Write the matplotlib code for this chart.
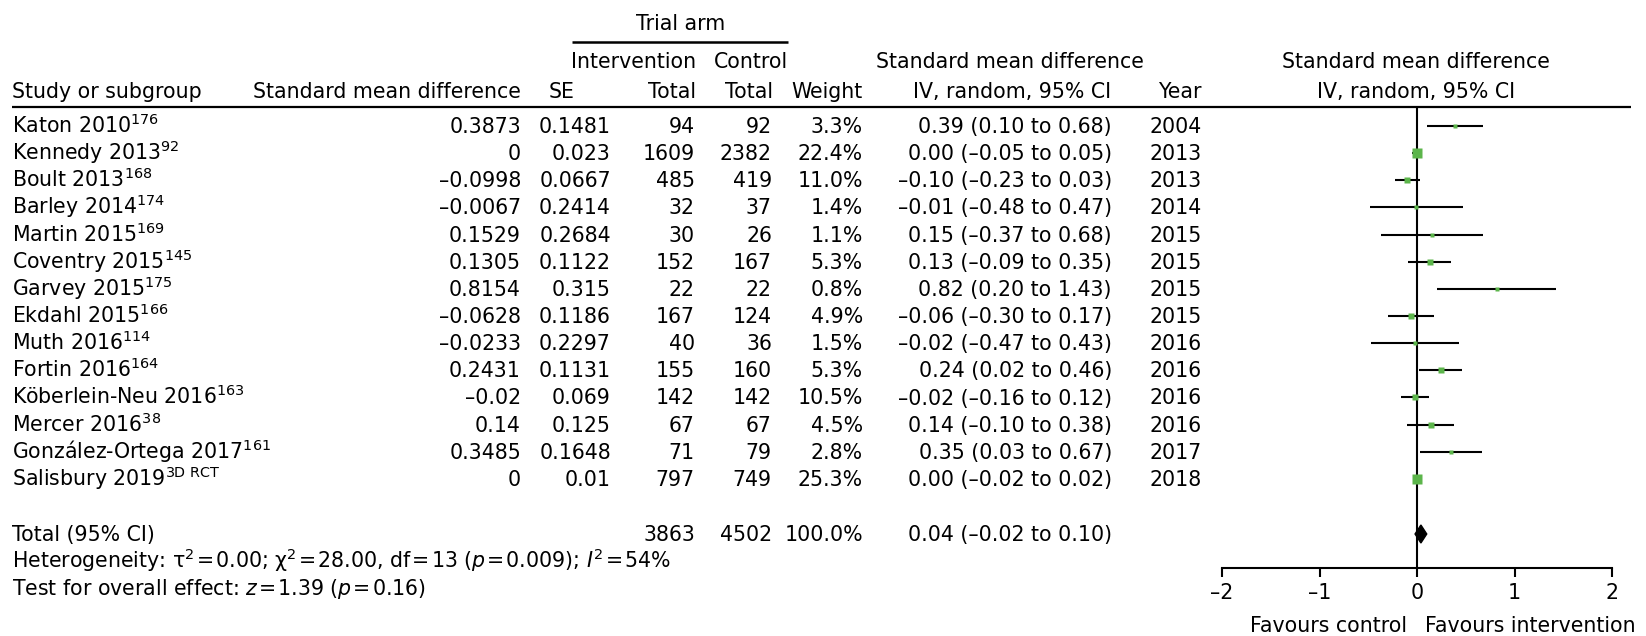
import matplotlib.pyplot as plt
import numpy as np

plt.rcParams['font.family'] = ['DejaVu Sans']
plt.rcParams['mathtext.fontset'] = 'dejavusans'

studies = ['Katon 2010', 'Kennedy 2013', 'Boult 2013', 'Barley 2014', 'Martin 2015',
           'Coventry 2015', 'Garvey 2015', 'Ekdahl 2015', 'Muth 2016', 'Fortin 2016',
           'Köberlein-Neu 2016', 'Mercer 2016', 'González-Ortega 2017', 'Salisbury 2019']
refs = ['176', '92', '168', '174', '169', '145', '175', '166', '114', '164', '163', '38',
        '161', r'\mathrm{3D\ RCT}']
smd = [0.3873, 0, -0.0998, -0.0067, 0.1529, 0.1305, 0.8154, -0.0628, -0.0233, 0.2431,
       -0.02, 0.14, 0.3485, 0]
se = [0.1481, 0.023, 0.0667, 0.2414, 0.2684, 0.1122, 0.315, 0.1186, 0.2297, 0.1131,
      0.069, 0.125, 0.1648, 0.01]
n_int = [94, 1609, 485, 32, 30, 152, 22, 167, 40, 155, 142, 67, 71, 797]
n_ctrl = [92, 2382, 419, 37, 26, 167, 22, 124, 36, 160, 142, 67, 79, 749]
weight = [3.3, 22.4, 11.0, 1.4, 1.1, 5.3, 0.8, 4.9, 1.5, 5.3, 10.5, 4.5, 2.8, 25.3]
ci_lo = [0.10, -0.05, -0.23, -0.48, -0.37, -0.09, 0.20, -0.30, -0.47, 0.02, -0.16, -0.10,
         0.03, -0.02]
ci_hi = [0.68, 0.05, 0.03, 0.47, 0.68, 0.35, 1.43, 0.17, 0.43, 0.46, 0.12, 0.38, 0.67, 0.02]
year = [2004, 2013, 2013, 2014, 2015, 2015, 2015, 2015, 2016, 2016, 2016, 2016, 2017, 2018]

total_int = 3863
total_ctrl = 4502
total_weight = 100.0
total_est, total_lo, total_hi = 0.04, -0.02, 0.10
x_ticks = [-2, -1, 0, 1, 2]

W, H = 1646, 636
ROW0, STEP = 126, 27.15
BASE = 7          # baseline offset below row centre (px)
FS = 14.8
GREEN = '#5cb54b'
EQ = '\u200a=\u200a'


def dash(s):
    return s.replace('-', '\u2013')


def ci_text(e, lo, hi):
    return dash(f'{e:.2f} ({lo:.2f} to {hi:.2f})')


fig = plt.figure(figsize=(W / 100, H / 100), dpi=100)
tab = fig.add_axes([0, 0, 1, 1])
tab.set_xlim(0, W)
tab.set_ylim(H, 0)
tab.axis('off')


def put(x, y, s, ha='left'):
    tab.text(x, y, s, ha=ha, va='baseline', fontsize=FS)


# header
put(681, 30, 'Trial arm', 'center')
tab.hlines(42, 572, 788, color='black', lw=1.8)
put(696, 68, 'Intervention', 'right')
put(788, 68, 'Control', 'right')
put(1010, 68, 'Standard mean difference', 'center')
put(1416, 68, 'Standard mean difference', 'center')
put(12, 98, 'Study or subgroup')
put(521, 98, 'Standard mean difference', 'right')
put(549, 98, 'SE')
put(696, 98, 'Total', 'right')
put(773, 98, 'Total', 'right')
put(863, 98, 'Weight', 'right')
put(1111, 98, 'IV, random, 95% CI', 'right')
put(1202, 98, 'Year', 'right')
put(1416, 98, 'IV, random, 95% CI', 'center')
tab.hlines(107, 12, 1631, color='black', lw=1.6)

# study rows
for i in range(len(studies)):
    y = ROW0 + STEP * i + BASE
    put(12, y, f'{studies[i]}$^{{{refs[i]}}}$')
    put(521, y, dash(f'{smd[i]:g}'), 'right')
    put(611, y, f'{se[i]:g}', 'right')
    put(695, y, str(n_int[i]), 'right')
    put(772, y, str(n_ctrl[i]), 'right')
    put(863, y, f'{weight[i]:.1f}%', 'right')
    put(1112, y, ci_text(round(smd[i], 2) + 0.0, ci_lo[i], ci_hi[i]), 'right')
    put(1202, y, str(year[i]), 'right')

TOT_Y = 534
put(12, TOT_Y + BASE, 'Total (95% CI)')
put(695, TOT_Y + BASE, str(total_int), 'right')
put(772, TOT_Y + BASE, str(total_ctrl), 'right')
put(863, TOT_Y + BASE, f'{total_weight:.1f}%', 'right')
put(1112, TOT_Y + BASE, ci_text(total_est, total_lo, total_hi), 'right')
put(12, 568, f'Heterogeneity: τ$^{{2}}${EQ}0.00; χ$^{{2}}${EQ}28.00, df{EQ}13 ($p${EQ}0.009); '
             f'$I^{{2}}${EQ}54%')
put(12, 595, f'Test for overall effect: $z${EQ}1.39 ($p${EQ}0.16)')

# forest plot
top, bot = 107, 568
ax = fig.add_axes([1222 / W, (H - bot) / H, 390 / W, (bot - top) / H])
ax.set_xlim(-2, 2)
ax.set_ylim((bot - ROW0) / STEP, (top - ROW0) / STEP)
ax.patch.set_alpha(0)
for s in ['left', 'right', 'top']:
    ax.spines[s].set_visible(False)
ax.spines['bottom'].set_linewidth(1.5)
ax.set_yticks([])
ax.set_xticks(x_ticks)
ax.set_xticklabels([dash(str(t)) for t in x_ticks], fontsize=FS)
ax.tick_params(axis='x', length=6.5, width=1.5, pad=4)
ax.axvline(0, color='black', lw=1.5, zorder=1)

for i in range(len(studies)):
    ax.hlines(i, ci_lo[i], ci_hi[i], color='black', lw=1.5, zorder=2)
    ax.plot(smd[i], i, 's', ms=1.3 + 1.1 * np.sqrt(weight[i]), color=GREEN,
            mec='none', zorder=3)

tr = (TOT_Y - ROW0) / STEP
dh = 9 / STEP
ax.fill([total_lo, total_est, total_hi, total_est], [tr, tr - dh, tr, tr + dh],
        color='black', zorder=4)

fav_y = (632 - ROW0) / STEP
ax.text(-0.1, fav_y, 'Favours control', ha='right', va='baseline', fontsize=FS,
        clip_on=False)
ax.text(0.08, fav_y, 'Favours intervention', ha='left', va='baseline', fontsize=FS,
        clip_on=False)

fig.savefig('out.png', dpi=100)
